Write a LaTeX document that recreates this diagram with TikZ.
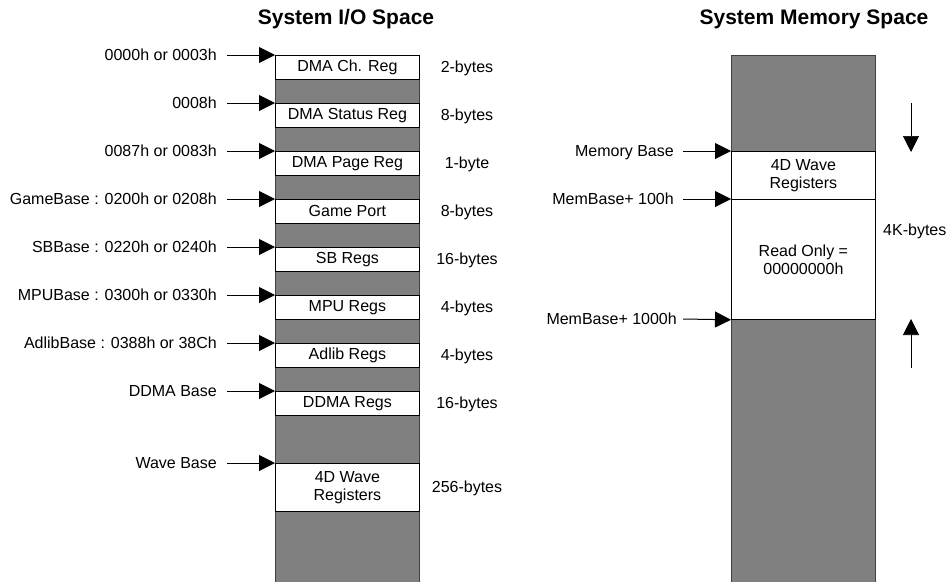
\documentclass[tikz,border=0pt]{standalone}
\usepackage{fontspec}
\setmainfont{Liberation Sans}
\usetikzlibrary{arrows.meta}
\begin{document}
\begin{tikzpicture}[x=1pt,y=-1pt,
  bar/.style={draw=black!75, fill=black!50, line width=1pt, minimum width=144pt, inner sep=0pt, anchor=north west},
  reg/.style={draw=black, fill=white, line width=0.8pt, minimum width=144pt, inner sep=0pt, anchor=north west, font=\fontsize{16}{18}\selectfont, align=center},
  lbl/.style={anchor=base east, inner sep=0pt, font=\fontsize{16}{18}\selectfont},
  sz/.style={anchor=base, inner sep=0pt, font=\fontsize{16}{18}\selectfont},
  ptr/.style={-{Triangle[length=16pt,width=16pt]}, line width=1pt},
  vptr/.style={-{Triangle[length=16pt,width=16pt]}, line width=0.7pt},
  ttl/.style={anchor=base, inner sep=0pt, font=\fontsize{21}{25}\selectfont\bfseries}]
\useasboundingbox (0,0) rectangle (947,581);
\clip (0,0) rectangle (947,581);
% titles
\node[ttl] (t1) at (346,24) {System I/O Space};
\node[ttl] (t2) at (814,24) {System Memory Space};
% I/O space
\node[bar, minimum height=540pt] (iobar) at (275,55) {};
\foreach \i/\t/\h/\txt/\sz/\lb in {
  1/55/24/{DMA Ch. Reg}/{2-bytes}/{0000h or 0003h},
  2/103/24/{DMA Status Reg}/{8-bytes}/{0008h},
  3/151/24/{DMA Page Reg}/{1-byte}/{0087h or 0083h},
  4/199/24/{Game Port}/{8-bytes}/{GameBase : 0200h or 0208h},
  5/247/24/{SB Regs}/{16-bytes}/{SBBase : 0220h or 0240h},
  6/295/24/{MPU Regs}/{4-bytes}/{MPUBase : 0300h or 0330h},
  7/343/24/{Adlib Regs}/{4-bytes}/{AdlibBase : 0388h or 38Ch},
  8/391/24/{DDMA Regs}/{16-bytes}/{DDMA Base},
  9/463/48/{4D Wave\\Registers}/{256-bytes}/{Wave Base}} {
  \node[reg, minimum height=\h pt] (b\i) at (275,\t) {\txt};
  \node[lbl] (l\i) at (217,\t+5) {\lb};
  \node[sz] (z\i) at (467,\t+\h/2+5.5) {\sz};
  \coordinate (s\i) at (227,\t);
  \draw[ptr] (s\i) -- (b\i.north west);
}
% memory space
\node[bar, minimum height=540pt] (membar) at (731,55) {};
\node[reg, minimum height=48pt] (m1) at (731,151) {4D Wave\\Registers};
\node[reg, minimum height=120pt] (m2) at (731,199) {Read Only =\\00000000h};
\node[lbl] (ml1) at (674,156) {Memory Base};
\node[lbl] (ml2) at (674,204) {MemBase+ 100h};
\node[lbl] (ml3) at (677,324) {MemBase+ 1000h};
\coordinate (ms1) at (683,151);
\coordinate (ms2) at (683,199);
\coordinate (ms3) at (683,319);
\draw[ptr] (ms1) -- (m1.north west);
\draw[ptr] (ms2) -- (m2.north west);
\draw[ptr] (ms3) -- (m2.south west);
\node[anchor=base west, inner sep=0pt, font=\fontsize{16}{18}\selectfont] (kb) at (883,235) {4K-bytes};
\coordinate (d1) at (911,103);
\coordinate (d2) at (911,152);
\coordinate (u1) at (911,368);
\coordinate (u2) at (911,319);
\draw[vptr] (d1) -- (d2);
\draw[vptr] (u1) -- (u2);
\end{tikzpicture}
\end{document}
